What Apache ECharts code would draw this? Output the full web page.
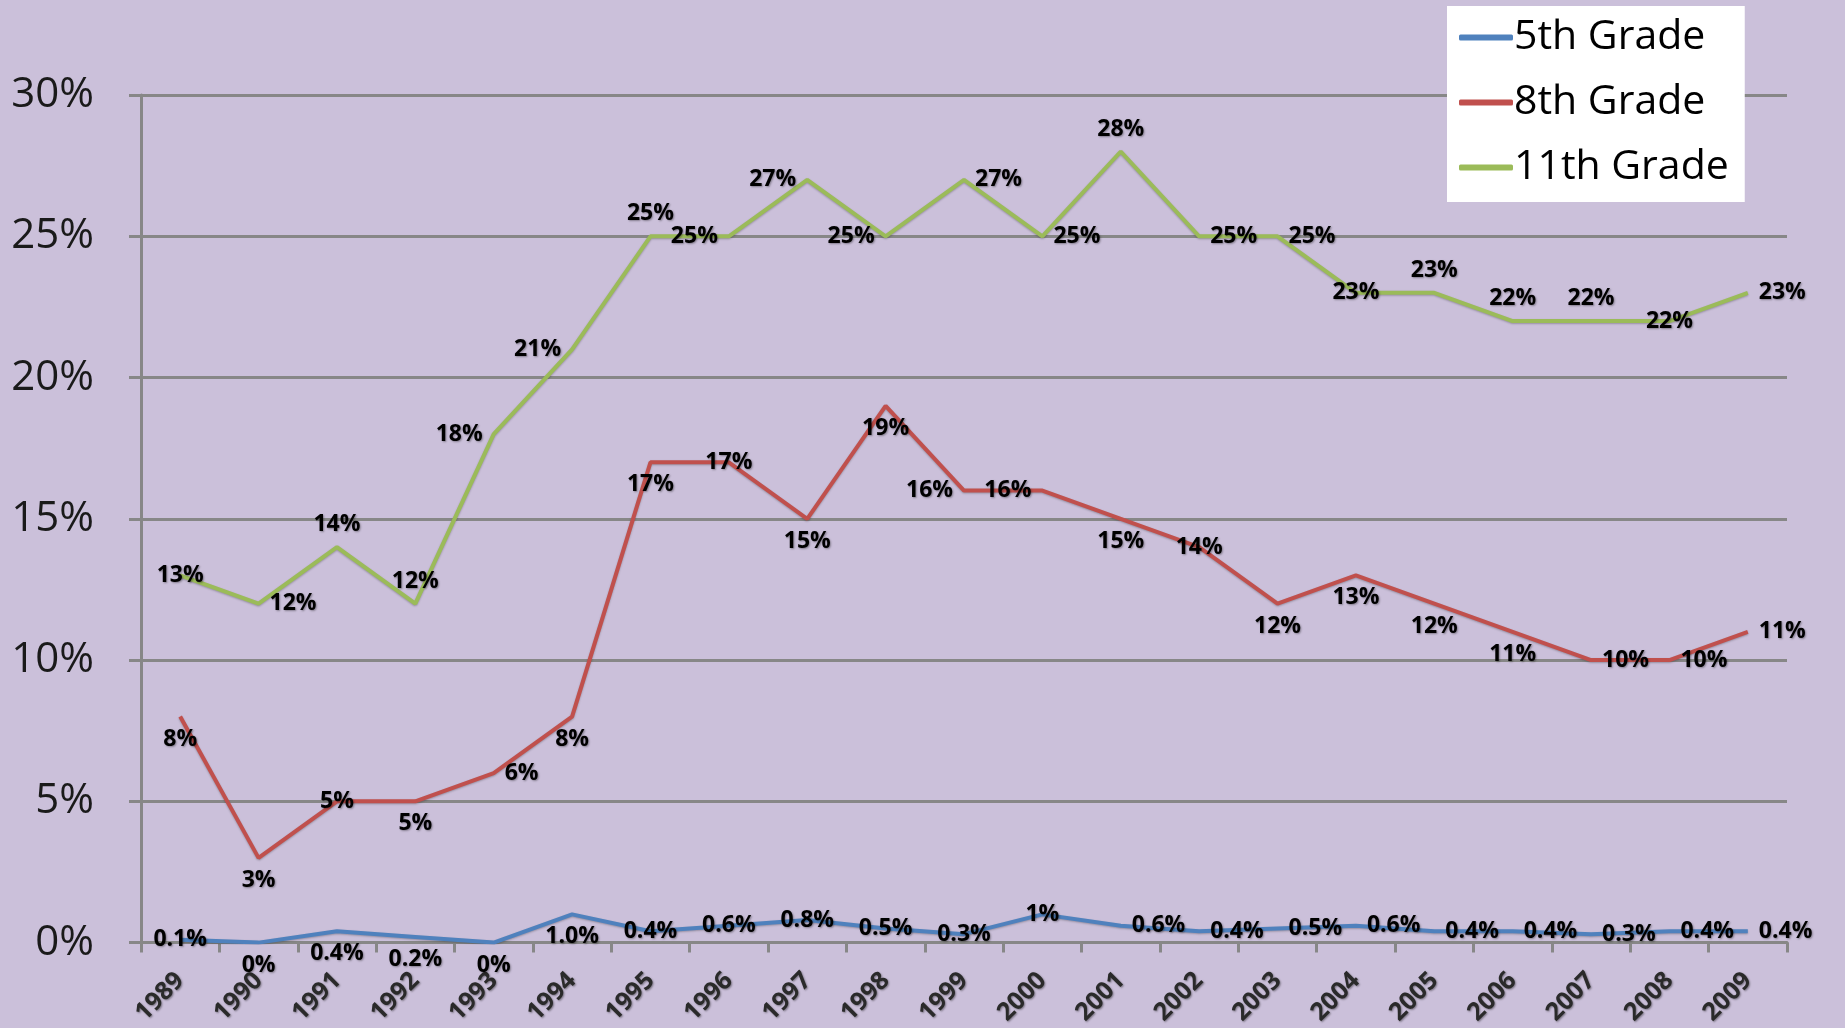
<!DOCTYPE html>
<html>
<head>
<meta charset="utf-8">
<script src="https://cdn.jsdelivr.net/npm/echarts@6/dist/echarts.min.js"></script>
<style>
  html, body { margin: 0; padding: 0; background: #cbc0da; }
  #chart { width: 1845px; height: 1028px; }
</style>
</head>
<body>
<div id="chart"></div>
<script>
// years on the x axis
var years = ['1989', '1990', '1991', '1992', '1993', '1994', '1995', '1996', '1997', '1998', '1999',
  '2000', '2001', '2002', '2003', '2004', '2005', '2006', '2007', '2008', '2009']

// percentages per grade
var grade5 = [0.1, 0, 0.4, 0.2, 0, 1.0, 0.4, 0.6, 0.8, 0.5, 0.3, 1, 0.6, 0.4, 0.5, 0.6, 0.4, 0.4, 0.3, 0.4, 0.4]
var grade8 = [8, 3, 5, 5, 6, 8, 17, 17, 15, 19, 16, 16, 15, 14, 12, 13, 12, 11, 10, 10, 11]
var grade11 = [13, 12, 14, 12, 18, 21, 25, 25, 27, 25, 27, 25, 28, 25, 25, 23, 23, 22, 22, 22, 23]

// label text as printed on the 5th grade line
var grade5Text = ['0.1%', '0%', '0.4%', '0.2%', '0%', '1.0%', '0.4%', '0.6%', '0.8%', '0.5%', '0.3%',
  '1%', '0.6%', '0.4%', '0.5%', '0.6%', '0.4%', '0.4%', '0.3%', '0.4%', '0.4%']

// where each data label sits relative to its point
var pos5 = ['inside', 'bottom', 'bottom', 'bottom', 'bottom', 'bottom', 'inside', 'inside', 'inside', 'inside', 'inside',
  'inside', 'right', 'right', 'right', 'right', 'right', 'right', 'right', 'right', 'right']
var pos8 = ['bottom', 'bottom', 'inside', 'bottom', 'right', 'bottom', 'bottom', 'inside', 'bottom', 'bottom', 'left',
  'left', 'bottom', 'inside', 'bottom', 'bottom', 'bottom', 'bottom', 'right', 'right', 'right']
var pos11 = ['inside', 'right', 'top', 'top', 'left', 'left', 'top', 'left', 'left', 'left', 'right',
  'right', 'top', 'right', 'right', 'inside', 'top', 'top', 'top', 'inside', 'right']

var gridGray = '#878787'
var labelFont = {
  fontFamily: 'Open Sans',
  fontWeight: 'bold',
  fontSize: 23,
  color: '#000',
  textShadowColor: 'rgba(0,0,0,0.35)',
  textShadowBlur: 2,
  textShadowOffsetX: 1,
  textShadowOffsetY: 1
}

function buildData (values, positions, texts) {
  return values.map(function (v, i) {
    var label = { position: positions[i], distance: 11 }
    if (texts) label.formatter = texts[i]
    return { value: v, label: label }
  })
}

function lineSeries (name, color, values, positions, texts) {
  return {
    name: name,
    type: 'line',
    color: color,
    symbol: 'circle',
    symbolSize: 0,
    lineStyle: {
      color: color,
      width: 4,
      shadowColor: 'rgba(0,0,0,0.25)',
      shadowBlur: 2,
      shadowOffsetY: 1
    },
    label: Object.assign({ show: true, formatter: '{c}%' }, labelFont),
    emphasis: { disabled: true },
    data: buildData(values, positions, texts)
  }
}

var chart = echarts.init(document.getElementById('chart'))
var option = {
  backgroundColor: '#cbc0da',
  animation: false,
  grid: {
    left: 141,
    right: 58,
    top: 95,
    bottom: 85
  },
  legend: {
    orient: 'vertical',
    left: 1447,
    top: 6,
    padding: [9, 16, 12, 12],
    itemGap: 20,
    itemWidth: 54,
    itemHeight: 6,
    icon: 'roundRect',
    backgroundColor: '#ffffff',
    textStyle: {
      fontFamily: 'Open Sans',
      fontSize: 41,
      lineHeight: 45,
      color: '#000',
      padding: [0, 0, 0, -4]
    },
    data: ['5th Grade', '8th Grade', '11th Grade']
  },
  xAxis: {
    type: 'category',
    data: years,
    axisLine: { lineStyle: { color: gridGray, width: 3 } },
    axisTick: { show: true, length: 10, lineStyle: { color: gridGray, width: 3 } },
    axisLabel: {
      rotate: 45,
      margin: 34,
      fontFamily: 'Open Sans',
      fontWeight: 'bold',
      fontSize: 25,
      color: '#2a2a2a',
      textShadowColor: 'rgba(0,0,0,0.4)',
      textShadowBlur: 2,
      textShadowOffsetX: 1,
      textShadowOffsetY: 1
    }
  },
  yAxis: {
    type: 'value',
    min: 0,
    max: 30,
    interval: 5,
    axisLine: { show: true, lineStyle: { color: gridGray, width: 3 } },
    axisTick: { show: true, length: 12, lineStyle: { color: gridGray, width: 3 } },
    splitLine: { lineStyle: { color: gridGray, width: 3 } },
    axisLabel: {
      formatter: '{value}%',
      margin: 47,
      fontFamily: 'Open Sans',
      fontSize: 42,
      color: '#1a1a1a'
    }
  },
  series: [
    lineSeries('5th Grade', '#4f81bd', grade5, pos5, grade5Text),
    lineSeries('8th Grade', '#c0504d', grade8, pos8),
    lineSeries('11th Grade', '#9bbb59', grade11, pos11)
  ]
}
chart.setOption(option)
</script>
</body>
</html>
